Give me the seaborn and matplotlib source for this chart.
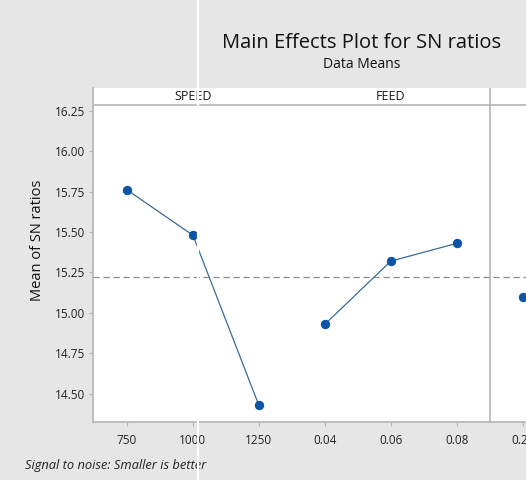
import matplotlib
matplotlib.use("Agg")
import matplotlib.pyplot as plt
import seaborn as sns
import pandas as pd
from matplotlib.lines import Line2D

# Data (mean of SN ratios per level)
speed_levels = ["750", "1000", "1250"]
speed_sn = [15.76, 15.48, 14.43]
feed_levels = ["0.04", "0.06", "0.08"]
feed_sn = [14.93, 15.32, 15.43]
# third factor is cut off in the picture: only its first level shows
third_levels = ["0.20"]
third_sn = [15.10]

factors = [("SPEED", speed_levels, speed_sn),
           ("FEED", feed_levels, feed_sn),
           ("", third_levels, third_sn)]

rows = []
pos = 0
for name, levels, vals in factors:
    for lev, v in zip(levels, vals):
        rows.append({"factor": name, "level": lev, "pos": pos, "sn": v})
        pos += 1
df = pd.DataFrame(rows)
grand_mean = (sum(speed_sn) + sum(feed_sn)) / (len(speed_sn) + len(feed_sn))

sns.set_theme(style="white")
plt.rcParams["font.family"] = ["Open Sans", "DejaVu Sans"]

BG = "#e6e6e6"
EDGE = "#b4b4b4"
BLUE = "#0a56a4"

fig = plt.figure(figsize=(5.26, 4.8), dpi=100, facecolor=BG)
ax = fig.add_axes([93 / 526, 1 - 422 / 480, 1 - 93 / 526, (422 - 88) / 480])
ax.set_facecolor("white")

strip_y = 16.286
ax.set_ylim(14.327, 16.389)
ax.set_xlim(-0.515, 6.05)

for name, sub in df.groupby("factor", sort=False):
    sns.lineplot(data=sub, x="pos", y="sn", ax=ax, color="#3a6a98",
                 linewidth=0.9, marker="o", markersize=6,
                 markerfacecolor=BLUE, markeredgecolor=BLUE, zorder=3)

ax.axhline(grand_mean, color="#8a8a8a", linestyle=(0, (5, 3)), linewidth=0.9, zorder=1)
ax.axhline(strip_y, color=EDGE, linewidth=1.2, zorder=2)

# strip titles; only the FEED / third panel divider shows in the picture
start = 0
for i, (name, levels, vals) in enumerate(factors):
    if name:
        center = start + (len(levels) - 1) / 2
        ax.text(center, (strip_y + 16.389) / 2, name, ha="center", va="center",
                fontsize=9, color="#1a1a1a")
    if i == 1:
        ax.axvline(start + len(levels) - 0.5, color=EDGE, linewidth=1.2)
    start += len(levels)

ax.set_xticks(df["pos"])
ax.set_xticklabels(df["level"])
ax.set_yticks([14.50, 14.75, 15.00, 15.25, 15.50, 15.75, 16.00, 16.25])
ax.set_yticklabels([f"{t:.2f}" for t in ax.get_yticks()])
ax.tick_params(axis="both", labelsize=8.5, labelcolor="#222222", color=EDGE,
               length=3, width=0.8, direction="out", bottom=True, left=True, pad=3)
ax.tick_params(axis="x", pad=6)
ax.set_xlabel("")
ax.set_ylabel("Mean of SN ratios", fontsize=10.5, color="#111111", fontweight="medium")
ax.yaxis.set_label_coords(-0.112, 0.545)
for s in ["left", "bottom"]:
    ax.spines[s].set_color(EDGE)
    ax.spines[s].set_linewidth(1.2)
for s in ["top", "right"]:
    ax.spines[s].set_visible(False)

fig.text(362 / 526, 1 - 43 / 480, "Main Effects Plot for SN ratios",
         ha="center", va="center", fontsize=14.5, color="#111111")
fig.text(362 / 526, 1 - 65 / 480, "Data Means", ha="center", va="center",
         fontsize=10, color="#111111")
fig.text(25 / 526, 1 - 465 / 480, "Signal to noise: Smaller is better",
         ha="left", va="center", fontsize=9.3, style="italic", color="#222222")

# white seam that runs down the source image
fig.add_artist(Line2D([198 / 526, 198 / 526], [0, 1], color="white",
                      linewidth=1.6, transform=fig.transFigure, zorder=10))

fig.savefig("out.png", dpi=100, facecolor=BG)
